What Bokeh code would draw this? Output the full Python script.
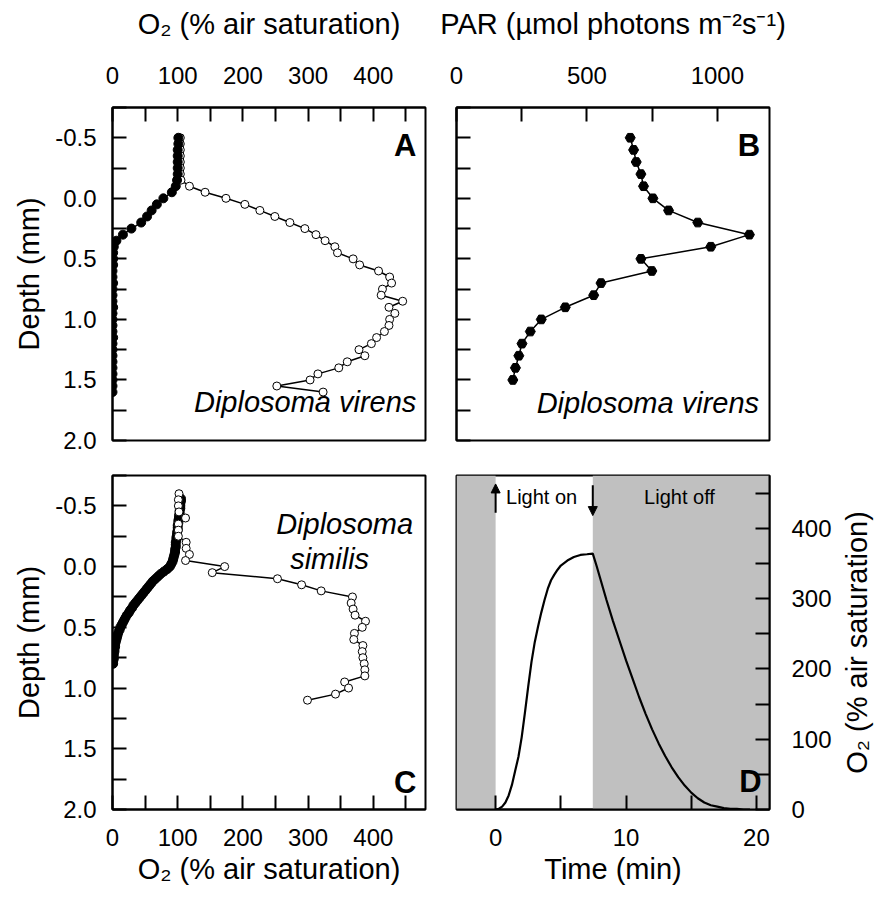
import math
from bokeh.plotting import figure
from bokeh.layouts import column, row
from bokeh.models import Range1d, FixedTicker, NumeralTickFormatter, Label, Arrow, NormalHead
from bokeh.embed import file_html
from bokeh.resources import INLINE

FONT = "Liberation Sans"

# ---------------- data ----------------
# Panel A: Diplosoma virens O2 profiles (light = open, dark = filled)
depth_A = [-0.50, -0.45, -0.40, -0.35, -0.30, -0.25, -0.20, -0.15, -0.10, -0.05,
           0.00, 0.05, 0.10, 0.15, 0.20, 0.25, 0.30, 0.35, 0.40, 0.45,
           0.50, 0.55, 0.60, 0.65, 0.70, 0.75, 0.80, 0.85, 0.90, 0.95,
           1.00, 1.05, 1.10, 1.15, 1.20, 1.25, 1.30, 1.35, 1.40, 1.45,
           1.50, 1.55, 1.60]
o2_light_A = [104, 104, 104, 104, 104, 104, 104, 105, 118, 142,
              174, 203, 226, 249, 272, 295, 312, 326, 341, 345,
              369, 379, 408, 425, 428, 414, 412, 445, 424, 433,
              425, 424, 417, 405, 397, 378, 387, 360, 347, 315,
              303, 252, 323]
o2_dark_A = [101, 101, 100, 100, 100, 100, 100, 99, 97, 91,
             78, 68, 60, 53, 44, 29, 16, 6, 2, 1,
             1, 1, 0, 0, 1, 0, 0, 0, 1, 0,
             0, 0, 0, 1, 0, 0, 0, 0, 0, 0,
             0, 0, 0]

# Panel B: PAR profile
depth_B = [-0.5, -0.4, -0.3, -0.2, -0.1, 0.0, 0.1, 0.2, 0.3, 0.4, 0.5,
           0.6, 0.7, 0.8, 0.9, 1.0, 1.1, 1.2, 1.3, 1.4, 1.5]
par_B = [666, 679, 689, 707, 717, 753, 813, 925, 1123, 975, 707,
         749, 554, 526, 417, 325, 283, 251, 239, 226, 216]

# Panel C: Diplosoma similis O2 profiles
depth_C_light = [-0.60, -0.55, -0.50, -0.45, -0.40, -0.35, -0.30, -0.25, -0.20, -0.15,
                 -0.10, -0.05, 0.00, 0.05, 0.10, 0.15, 0.20, 0.25, 0.30, 0.35,
                 0.40, 0.45, 0.50, 0.55, 0.60, 0.65, 0.70, 0.75, 0.80, 0.85,
                 0.90, 0.95, 1.00, 1.05, 1.10]
o2_light_C = [102, 101, 101, 102, 112, 101, 101, 101, 113, 113,
              118, 112, 172, 153, 253, 290, 320, 368, 366, 369,
              372, 388, 383, 371, 370, 384, 383, 384, 386, 387,
              387, 356, 362, 342, 299]
depth_C_dark = [-0.56, -0.54, -0.52, -0.50, -0.48, -0.46, -0.44, -0.42, -0.40, -0.38,
                -0.36, -0.34, -0.32, -0.30, -0.28, -0.26, -0.24, -0.22, -0.20, -0.18,
                -0.16, -0.14, -0.12, -0.10, -0.08, -0.06, -0.04, -0.02, 0.00, 0.02,
                0.04, 0.06, 0.08, 0.10, 0.12, 0.14, 0.16, 0.18, 0.20, 0.22,
                0.24, 0.26, 0.28, 0.30, 0.32, 0.34, 0.36, 0.38, 0.40, 0.42,
                0.44, 0.46, 0.48, 0.50, 0.52, 0.54, 0.56, 0.58, 0.60, 0.62,
                0.64, 0.66, 0.68, 0.70, 0.72, 0.74, 0.76, 0.78, 0.80]
o2_dark_C = [105, 105, 104, 104, 104, 103, 103, 102, 102, 101,
             101, 100, 100, 100, 99, 99, 98, 98, 97, 97,
             97, 96, 96, 95, 94, 93, 92, 90, 88, 84,
             79, 74, 70, 66, 62, 59, 56, 53, 50, 47,
             44, 41, 38, 35, 32, 30, 27, 25, 22, 20,
             18, 16, 14, 12, 11, 9, 8, 7, 6, 5,
             4, 4, 3, 3, 2, 2, 2, 1, 1]

# Panel D: O2 time series at the surface
time_D = [0, 0.25, 0.5, 0.75, 1.0, 1.25, 1.5, 1.75, 2.0, 2.25, 2.5, 2.75, 3.0, 3.25,
          3.5, 3.75, 4.0, 4.25, 4.5, 4.75, 5.0, 5.5, 6.0, 6.5, 7.0, 7.45, 7.75, 8.0,
          8.5, 9.0, 9.5, 10.0, 10.5, 11.0, 11.5, 12.0, 12.5, 13.0, 13.5, 14.0, 14.5,
          15.0, 15.5, 16.0, 16.5, 17.0, 17.5, 18.0, 18.5, 19.0, 19.5]
o2_D = [0, 1, 4, 10, 20, 35, 55, 75, 103, 138, 175, 210, 238, 260,
        280, 298, 314, 326, 334, 341, 347, 354, 359, 362, 363, 364, 346, 330,
        298, 268, 240, 212, 186, 160, 136, 114, 94, 76, 60, 46, 34,
        24, 16, 10, 6, 4, 2, 1, 1, 0, 0]
dark_start_D = [-3, 7.45]
dark_end_D = [0, 21]
light_on_time = 0
light_off_time = 7.45

# ticks
o2_major = [0, 100, 200, 300, 400]
o2_minor = [50, 150, 250, 350, 450]
depth_major = [-0.5, 0.0, 0.5, 1.0, 1.5, 2.0]
depth_minor = [-0.75, -0.25, 0.25, 0.75, 1.25, 1.75]
par_major = [0, 500, 1000]
par_minor = [250, 750]
time_major = [0, 10, 20]
time_minor = [5, 15]
o2d_major = [0, 100, 200, 300, 400]
o2d_minor = [50, 150, 250, 350, 450]

TICK_FS = "24px"
TITLE_FS = "29px"
SPECIES_FS = "29px"
O2_TITLE = "O\u2082 (% air saturation)"


def style_axis(ax, major, minor, label="", fmt=None, show_labels=True):
    if show_labels:
        ax.ticker = FixedTicker(ticks=major, minor_ticks=minor)
    else:
        ax.ticker = FixedTicker(ticks=[], minor_ticks=major + minor)
    if fmt is not None:
        ax.formatter = NumeralTickFormatter(format=fmt)
    ax.major_tick_in = 14
    ax.major_tick_out = 0
    ax.minor_tick_in = 14
    ax.minor_tick_out = 0
    ax.major_tick_line_width = 2
    ax.minor_tick_line_width = 2
    ax.major_tick_line_color = "black"
    ax.minor_tick_line_color = "black"
    ax.axis_line_width = 2
    ax.axis_line_color = "black"
    ax.major_label_text_font = FONT
    ax.major_label_text_font_size = TICK_FS
    ax.major_label_text_color = "black"
    ax.major_label_standoff = 14
    ax.axis_label = label
    ax.axis_label_text_font = FONT
    ax.axis_label_text_font_size = TITLE_FS
    ax.axis_label_text_font_style = "normal"
    ax.axis_label_text_color = "black"


def base_fig(x_range, y_range, fh, x_loc, y_loc, borders, fw=313):
    l, r, t, b = borders
    p = figure(x_range=x_range, y_range=y_range, frame_width=fw, frame_height=fh,
               x_axis_location=x_loc, y_axis_location=y_loc,
               output_backend="svg", toolbar_location=None,
               min_border_left=l, min_border_right=r, min_border_top=t, min_border_bottom=b)
    p.grid.visible = False
    p.outline_line_color = "black"
    p.outline_line_width = 2
    p.outline_line_alpha = 1
    p.background_fill_color = "white"
    p.border_fill_color = "white"
    return p


def letter(p, x, y, t):
    p.add_layout(Label(x=x, y=y, text=t, text_font=FONT, text_font_size="31px",
                       text_font_style="bold", text_align="right", text_baseline="middle",
                       text_color="black"))


def species(p, x, y, t, align="right"):
    p.add_layout(Label(x=x, y=y, text=t, text_font=FONT, text_font_size=SPECIES_FS,
                       text_font_style="italic", text_align=align, text_baseline="middle",
                       text_color="black"))


# ---------------- Panel A ----------------
pA = base_fig(Range1d(0, 480), Range1d(2.0, -0.75), 333, "above", "left", (112, 16, 107, 20))
style_axis(pA.xaxis[0], o2_major, o2_minor, O2_TITLE)
pA.xaxis[0].major_label_standoff = 24
pA.xaxis[0].axis_label_standoff = 24
style_axis(pA.yaxis[0], depth_major, depth_minor, "Depth (mm)", fmt="0.0")
pA.yaxis[0].major_label_standoff = 16
pA.yaxis[0].axis_label_standoff = 7
pA.line(o2_light_A, depth_A, line_color="black", line_width=1.5)
pA.scatter(o2_light_A, depth_A, marker="circle", size=8, fill_color="white",
           line_color="black", line_width=1)
pA.line(o2_dark_A, depth_A, line_color="black", line_width=1.5)
pA.scatter(o2_dark_A, depth_A, marker="circle", size=9, fill_color="black",
           line_color="black", line_width=1)
letter(pA, 466, -0.44, "A")
species(pA, 466, 1.68, "Diplosoma virens")

# ---------------- Panel B ----------------
pB = base_fig(Range1d(0, 1200), Range1d(2.0, -0.75), 333, "above", "left", (15, 68, 107, 20))
style_axis(pB.xaxis[0], par_major, par_minor, "PAR (\u00b5mol photons m\u207b\u00b2s\u207b\u00b9)")
pB.xaxis[0].major_label_standoff = 24
pB.xaxis[0].axis_label_standoff = 24
style_axis(pB.yaxis[0], depth_major, depth_minor, show_labels=False)
pB.yaxis[0].major_label_standoff = 0
pB.line(par_B, depth_B, line_color="black", line_width=1.5)
pB.scatter(par_B, depth_B, marker="hex", size=10, fill_color="black", line_color="black")
letter(pB, 1164, -0.44, "B")
species(pB, 1160, 1.69, "Diplosoma virens")

# ---------------- Panel C ----------------
pC = base_fig(Range1d(0, 480), Range1d(2.0, -0.75), 334, "below", "left", (112, 16, 15, 86))
style_axis(pC.xaxis[0], o2_major, o2_minor, O2_TITLE)
pC.xaxis[0].axis_label_standoff = 4
pC.xaxis[0].major_label_standoff = 19
style_axis(pC.yaxis[0], depth_major, depth_minor, "Depth (mm)", fmt="0.0")
pC.yaxis[0].major_label_standoff = 16
pC.yaxis[0].axis_label_standoff = 7
pC.line(o2_dark_C, depth_C_dark, line_color="black", line_width=1.5)
pC.scatter(o2_dark_C, depth_C_dark, marker="circle", size=9, fill_color="black",
           line_color="black")
pC.line(o2_light_C, depth_C_light, line_color="black", line_width=1.5)
pC.scatter(o2_light_C, depth_C_light, marker="circle", size=8, fill_color="white",
           line_color="black", line_width=1)
letter(pC, 466, 1.78, "C")
species(pC, 356, -0.35, "Diplosoma", align="center")
species(pC, 333, -0.06, "similis", align="center")

# ---------------- Panel D ----------------
pD = base_fig(Range1d(-3, 21), Range1d(0, 475), 334, "below", "right", (15, 68, 15, 86))
style_axis(pD.xaxis[0], time_major, time_minor, "Time (min)")
pD.xaxis[0].axis_label_standoff = 4
pD.xaxis[0].major_label_standoff = 19
style_axis(pD.yaxis[0], o2d_major, o2d_minor, "")
pD.yaxis[0].major_label_standoff = 22
pD.quad(left=dark_start_D, right=dark_end_D, bottom=0, top=475,
        fill_color="#c0c0c0", line_color=None)
pD.line(time_D, o2_D, line_color="black", line_width=2.2)
pD.add_layout(Arrow(end=NormalHead(size=9, fill_color="black", line_color="black"),
                    x_start=light_on_time, y_start=422, x_end=light_on_time, y_end=463,
                    line_width=2, line_color="black"))
pD.add_layout(Arrow(end=NormalHead(size=9, fill_color="black", line_color="black"),
                    x_start=light_off_time, y_start=461, x_end=light_off_time, y_end=418,
                    line_width=2, line_color="black"))
pD.add_layout(Label(x=0.8, y=445, text="Light on", text_font=FONT, text_font_size="20px",
                    text_baseline="middle", text_align="left", text_color="black"))
pD.add_layout(Label(x=14.1, y=445, text="Light off", text_font=FONT, text_font_size="20px",
                    text_baseline="middle", text_align="center", text_color="black"))
letter(pD, 20.4, 40, "D")

# right-hand axis title of panel D, reading bottom to top, in its own narrow strip
pT = figure(x_range=Range1d(0, 1), y_range=Range1d(0, 1), frame_width=38, frame_height=334,
            x_axis_location=None, y_axis_location=None,
            output_backend="svg", toolbar_location=None,
            min_border_left=0, min_border_right=0, min_border_top=15, min_border_bottom=86)
pT.grid.visible = False
pT.outline_line_color = None
pT.border_fill_color = "white"
pT.add_layout(Label(x=0.5, y=0.5, text=O2_TITLE, angle=math.pi / 2,
                    text_font=FONT, text_font_size=TITLE_FS, text_align="center",
                    text_baseline="middle", text_color="black"))

layout = column(row(pA, pB), row(pC, pD, pT))
open("out.html", "w").write(file_html(layout, INLINE))
